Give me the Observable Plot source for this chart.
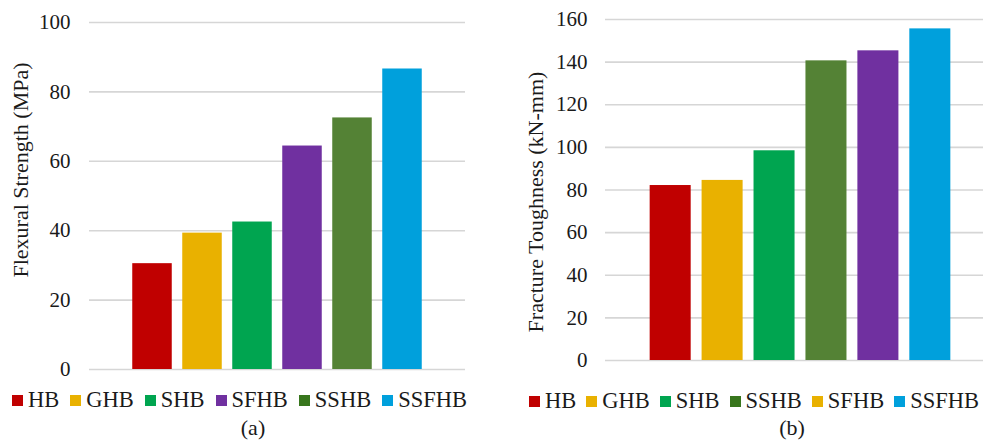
<!DOCTYPE html>
<html>
<head>
<meta charset="utf-8">
<script src="https://cdn.jsdelivr.net/npm/d3@7"></script>
<script src="https://cdn.jsdelivr.net/npm/@observablehq/plot@0.6"></script>
<style>
  html, body { margin: 0; padding: 0; background: #fff; }
  #root { position: relative; width: 983px; height: 441px; overflow: hidden; font-family: "Liberation Serif", "Times New Roman", serif; color: #1a1a1a; }
  .panel { position: absolute; top: 0; }
  .legend { position: absolute; display: flex; align-items: center; white-space: nowrap; font-size: 22.5px; line-height: 22px; }
  .legend .item { display: flex; align-items: center; margin-right: 11px; }
  .legend.tight .item { margin-right: 10px; }
  .legend .item:last-child { margin-right: 0; }
  .legend .sw { width: 11px; height: 11px; margin-right: 5px; }
  .caption { position: absolute; font-size: 22px; line-height: 22px; transform: translateX(-50%); }
</style>
</head>
<body>
<div id="root"></div>
<script>
// Panel (a): flexural strength
const catsA = ["HB", "GHB", "SHB", "SFHB", "SSHB", "SSFHB"];
const valsA = [30.5, 39.3, 42.5, 64.4, 72.5, 86.6];
const colorsA = ["#C00000", "#E9B100", "#00A550", "#7030A0", "#548235", "#00A0DC"];
const legendColorsA = ["#C00000", "#E9B100", "#00A550", "#7030A0", "#38761D", "#00A0DC"];
const ticksA = [0, 20, 40, 60, 80, 100];
const titleA = "Flexural Strength (MPa)";

// Panel (b): fracture toughness
const catsB = ["HB", "GHB", "SHB", "SSHB", "SFHB", "SSFHB"];
const valsB = [82.1, 84.5, 98.4, 140.6, 145.3, 155.6];
const colorsB = ["#C00000", "#E9B100", "#00A550", "#548235", "#7030A0", "#00A0DC"];
const legendColorsB = ["#C00000", "#E9B100", "#00A550", "#38761D", "#E9B100", "#00A0DC"];
const ticksB = [0, 20, 40, 60, 80, 100, 120, 140, 160];
const titleB = "Fracture Toughness (kN-mm)";

const root = document.getElementById("root");
const font = '"Liberation Serif", "Times New Roman", serif';

function panel({cats, vals, colors, ticks, title, width, marginLeft, marginRight, marginTop, marginBottom,
                paddingInner, paddingOuter, tickPadding, titleDx, titleDy, left}) {
  const rows = cats.map((c, i) => ({cat: c, val: vals[i], color: colors[i]}));
  const chart = Plot.plot({
    width, height: 380, marginLeft, marginRight, marginTop, marginBottom,
    x: {domain: cats, paddingInner, paddingOuter, round: false, axis: null},
    y: {domain: [ticks[0], ticks[ticks.length - 1]], axis: null},
    color: {type: "identity"},
    style: {fontFamily: font, fontSize: "21px", color: "#1a1a1a", background: "transparent", overflow: "visible"},
    marks: [
      Plot.gridY(ticks, {stroke: "#d6d6d6", strokeOpacity: 1, strokeWidth: 1.6}),
      Plot.axisY(ticks, {tickSize: 0, tickPadding, label: null, fill: "#1a1a1a"}),
      Plot.barY(rows, {x: "cat", y: "val", fill: "color"}),
      Plot.text([title], {frameAnchor: "left", textAnchor: "middle", lineAnchor: "middle", rotate: -90,
        dx: titleDx, dy: titleDy, fontSize: 22, fill: "#1a1a1a"})
    ]
  });
  chart.classList.add("panel");
  chart.style.left = left + "px";
  root.appendChild(chart);
}

function legend(cats, colors, left, top, tight) {
  const div = document.createElement("div");
  div.className = tight ? "legend tight" : "legend";
  div.style.left = left + "px";
  div.style.top = top + "px";
  cats.forEach((c, i) => {
    const item = document.createElement("div");
    item.className = "item";
    const sw = document.createElement("div");
    sw.className = "sw";
    sw.style.background = colors[i];
    const t = document.createElement("span");
    t.textContent = c;
    item.appendChild(sw);
    item.appendChild(t);
    div.appendChild(item);
  });
  root.appendChild(div);
}

function caption(text, cx, top) {
  const d = document.createElement("div");
  d.className = "caption";
  d.style.left = cx + "px";
  d.style.top = top + "px";
  d.textContent = text;
  root.appendChild(d);
}

panel({cats: catsA, vals: valsA, colors: colorsA, ticks: ticksA, title: titleA,
  width: 490, marginLeft: 89, marginRight: 25, marginTop: 22, marginBottom: 11,
  paddingInner: 0.21, paddingOuter: 0.865, tickPadding: 19, titleDx: -69, titleDy: -26, left: 0});

panel({cats: catsB, vals: valsB, colors: colorsB, ticks: ticksB, title: titleB,
  width: 505, marginLeft: 115, marginRight: 0, marginTop: 19, marginBottom: 20,
  paddingInner: 0.21, paddingOuter: 0.86, tickPadding: 18, titleDx: -70, titleDy: 12, left: 490});

legend(catsA, legendColorsA, 12, 389, false);
legend(catsB, legendColorsB, 529, 390, true);
caption("(a)", 253, 417);
caption("(b)", 792, 417);
</script>
</body>
</html>
